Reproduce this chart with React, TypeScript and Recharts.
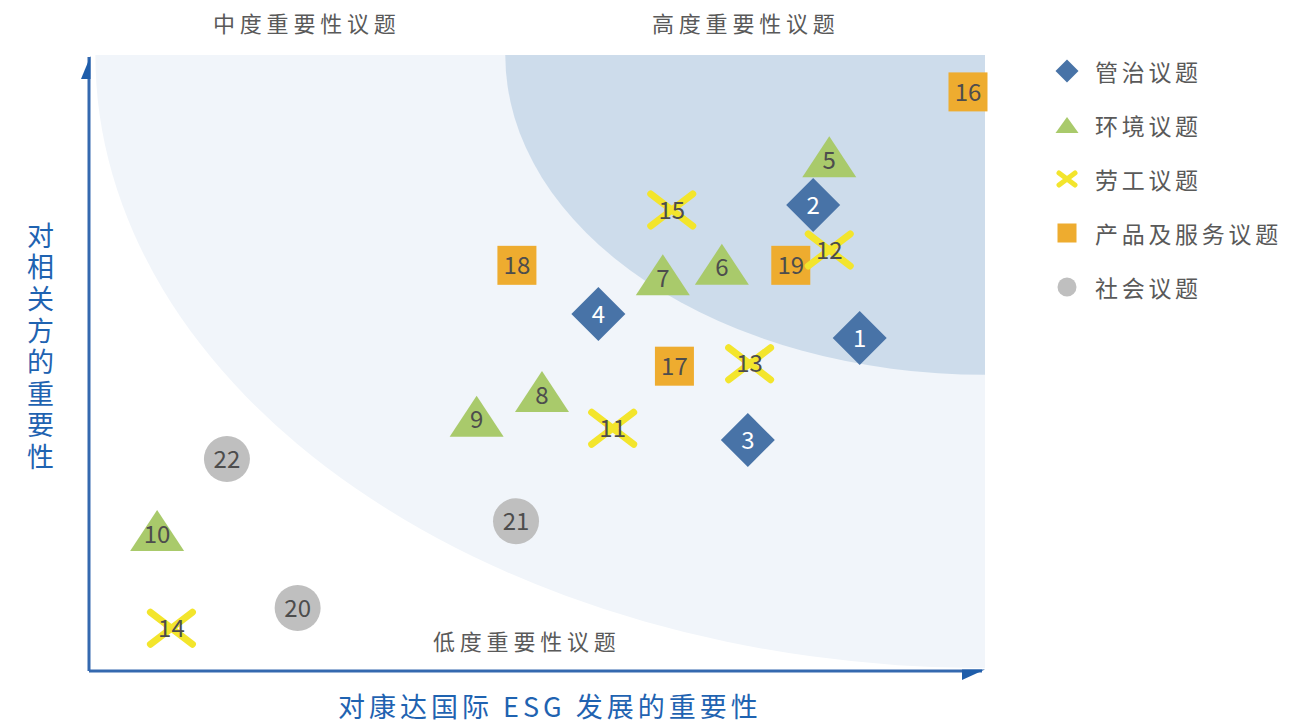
import React from "react";
import { ScatterChart, Scatter, XAxis, YAxis, ReferenceArea } from "recharts";

const FONT = '"Noto Sans CJK SC", "Noto Sans", sans-serif';

// 议题坐标：x = 对康达国际 ESG 发展的重要性，y = 对相关方的重要性（0-100）
const governance = [
  { id: "1", x: 86.0, y: 54.0 },
  { id: "2", x: 80.8, y: 75.6 },
  { id: "3", x: 73.5, y: 37.4 },
  { id: "4", x: 56.8, y: 57.9 },
];
const environment = [
  { id: "5", x: 82.6, y: 82.9 },
  { id: "6", x: 70.6, y: 65.4 },
  { id: "7", x: 64.0, y: 63.7 },
  { id: "8", x: 50.5, y: 44.7 },
  { id: "9", x: 43.2, y: 40.7 },
  { id: "10", x: 7.5, y: 22.1 },
];
const labour = [
  { id: "11", x: 58.4, y: 39.3 },
  { id: "12", x: 82.6, y: 68.3 },
  { id: "13", x: 73.7, y: 49.8 },
  { id: "14", x: 9.1, y: 6.8 },
  { id: "15", x: 65.0, y: 74.8 },
];
const product = [
  { id: "16", x: 98.1, y: 94.0 },
  { id: "17", x: 65.3, y: 49.4 },
  { id: "18", x: 47.7, y: 65.8 },
  { id: "19", x: 78.3, y: 65.8 },
];
const society = [
  { id: "20", x: 23.2, y: 10.1 },
  { id: "21", x: 47.6, y: 24.2 },
  { id: "22", x: 15.3, y: 34.3 },
];

const legendItems = [
  { name: "管治议题", kind: "diamond" },
  { name: "环境议题", kind: "triangle" },
  { name: "劳工议题", kind: "cross" },
  { name: "产品及服务议题", kind: "square" },
  { name: "社会议题", kind: "circle" },
];

// 背景区域（以右上角为圆心的四分之一椭圆，单位为坐标轴数值）
const lightRegion = { rx: 99.4, ry: 99.7 };
const darkRegion = { rx: 53.6, ry: 52.0 };

const COLORS = {
  diamond: "#4873A7",
  triangle: "#A9CA6B",
  cross: "#F3E52C",
  square: "#EEAC2F",
  circle: "#BFBFBF",
  light: "#F1F5FA",
  dark: "#CDDCEB",
  axis: "#3469AF",
  title: "#1F63B1",
  text: "#595959",
  num: "#4D4D4D",
};

function NumLabel({ cx, cy, text, color = COLORS.num }: any) {
  return (
    <text
      x={cx}
      y={cy}
      dy="0.36em"
      textAnchor="middle"
      fontSize={24}
      fontFamily={FONT}
      fill={color}
    >
      {text}
    </text>
  );
}

function DiamondShape({ cx, cy, payload }: any) {
  const r = 27;
  return (
    <g>
      <path d={`M${cx},${cy - r}L${cx + r},${cy}L${cx},${cy + r}L${cx - r},${cy}Z`} fill={COLORS.diamond} />
      <NumLabel cx={cx} cy={cy} text={payload.id} color="#ffffff" />
    </g>
  );
}

function TriangleShape({ cx, cy, payload }: any) {
  return (
    <g>
      <path d={`M${cx},${cy - 24}L${cx + 27},${cy + 17}L${cx - 27},${cy + 17}Z`} fill={COLORS.triangle} />
      <NumLabel cx={cx} cy={cy} text={payload.id} />
    </g>
  );
}

function CrossShape({ cx, cy, payload }: any) {
  const w = 21;
  const h = 16;
  return (
    <g>
      <path
        d={`M${cx - w},${cy - h}L${cx + w},${cy + h}M${cx + w},${cy - h}L${cx - w},${cy + h}`}
        stroke={COLORS.cross}
        strokeWidth={7}
        strokeLinecap="round"
      />
      <NumLabel cx={cx} cy={cy} text={payload.id} />
    </g>
  );
}

function SquareShape({ cx, cy, payload }: any) {
  return (
    <g>
      <rect x={cx - 19.5} y={cy - 19.5} width={39} height={39} fill={COLORS.square} />
      <NumLabel cx={cx} cy={cy} text={payload.id} />
    </g>
  );
}

function CircleShape({ cx, cy, payload }: any) {
  return (
    <g>
      <circle cx={cx} cy={cy} r={23} fill={COLORS.circle} />
      <NumLabel cx={cx} cy={cy} text={payload.id} />
    </g>
  );
}

function QuarterEllipse({ x, y, width, height, region, color }: any) {
  const cx = x + width;
  const cy = y;
  const rx = (width * region.rx) / 100;
  const ry = (height * region.ry) / 100;
  return (
    <path
      d={`M${cx - rx},${cy}A${rx},${ry} 0 0 0 ${cx},${cy + ry}L${cx},${cy}Z`}
      fill={color}
    />
  );
}

function AxesShape({ x, y, width, height }: any) {
  const left = x - 1;
  const bottom = y + height + 1;
  const right = x + width - 3;
  return (
    <g>
      <line x1={left} y1={y + 2} x2={left} y2={bottom} stroke={COLORS.axis} strokeWidth={3} />
      <line x1={left} y1={bottom} x2={right} y2={bottom} stroke={COLORS.axis} strokeWidth={3} />
      <path d={`M${left + 1.5},${y + 1}L${left + 1.5},${y + 24}L${left - 8},${y + 24}Z`} fill="#1E5DAA" />
      <path d={`M${right + 3},${bottom - 1.5}L${right - 20},${bottom - 1.5}L${right - 20},${bottom + 9}Z`} fill="#1E5DAA" />
    </g>
  );
}

function LegendIcon({ kind }: { kind: string }) {
  return (
    <svg width={26} height={26} style={{ display: "block" }}>
      {kind === "diamond" && <path d="M13,1.5L24.5,13L13,24.5L1.5,13Z" fill={COLORS.diamond} />}
      {kind === "triangle" && <path d="M13,5L24.5,21L1.5,21Z" fill={COLORS.triangle} />}
      {kind === "cross" && (
        <path d="M5,7L21,19M21,7L5,19" stroke={COLORS.cross} strokeWidth={5} strokeLinecap="round" />
      )}
      {kind === "square" && <rect x={3.5} y={3.5} width={19} height={19} fill={COLORS.square} />}
      {kind === "circle" && <circle cx={13} cy={13} r={9.5} fill={COLORS.circle} />}
    </svg>
  );
}

const regionLabel: React.CSSProperties = {
  position: "absolute",
  fontFamily: FONT,
  fontSize: 22,
  letterSpacing: 4.8,
  color: COLORS.text,
  whiteSpace: "nowrap",
  lineHeight: "26px",
};

export default function App() {
  return (
    <div style={{ position: "absolute", left: 0, top: 0, width: 1316, height: 725, background: "#fff", fontFamily: FONT }}>
      <ScatterChart width={1316} height={725} margin={{ top: 55, right: 331, bottom: 55, left: 90 }}>
        <XAxis type="number" dataKey="x" domain={[0, 100]} hide />
        <YAxis type="number" dataKey="y" domain={[0, 100]} hide />
        <ReferenceArea
          x1={0}
          x2={100}
          y1={0}
          y2={100}
          shape={(p: any) => <QuarterEllipse {...p} region={lightRegion} color={COLORS.light} />}
        />
        <ReferenceArea
          x1={0}
          x2={100}
          y1={0}
          y2={100}
          shape={(p: any) => <QuarterEllipse {...p} region={darkRegion} color={COLORS.dark} />}
        />
        <ReferenceArea x1={0} x2={100} y1={0} y2={100} shape={(p: any) => <AxesShape {...p} />} />
        <Scatter name="管治议题" data={governance} shape={DiamondShape} isAnimationActive={false} />
        <Scatter name="环境议题" data={environment} shape={TriangleShape} isAnimationActive={false} />
        <Scatter name="产品及服务议题" data={product} shape={SquareShape} isAnimationActive={false} />
        <Scatter name="劳工议题" data={labour} shape={CrossShape} isAnimationActive={false} />
        <Scatter name="社会议题" data={society} shape={CircleShape} isAnimationActive={false} />
      </ScatterChart>

      <div style={{ ...regionLabel, left: 213, top: 9 }}>中度重要性议题</div>
      <div style={{ ...regionLabel, left: 652, top: 9 }}>高度重要性议题</div>
      <div style={{ ...regionLabel, left: 433, top: 627 }}>低度重要性议题</div>

      <div
        style={{
          position: "absolute",
          left: 338,
          top: 690,
          fontSize: 27,
          letterSpacing: 4,
          color: COLORS.title,
          whiteSpace: "nowrap",
          lineHeight: "32px",
        }}
      >
        对康达国际 ESG 发展的重要性
      </div>
      <div
        style={{
          position: "absolute",
          left: 24,
          top: 222,
          fontSize: 27,
          lineHeight: "32px",
          letterSpacing: 4.6,
          writingMode: "vertical-rl",
          color: COLORS.title,
          whiteSpace: "nowrap",
        }}
      >
        对相关方的重要性
      </div>

      <div style={{ position: "absolute", left: 1054, top: 44 }}>
        {legendItems.map((item) => (
          <div key={item.name} style={{ display: "flex", alignItems: "center", height: 54 }}>
            <LegendIcon kind={item.kind} />
            <span
              style={{
                marginLeft: 15,
                fontSize: 23,
                letterSpacing: 3.7,
                color: COLORS.text,
                whiteSpace: "nowrap",
              }}
            >
              {item.name}
            </span>
          </div>
        ))}
      </div>
    </div>
  );
}
